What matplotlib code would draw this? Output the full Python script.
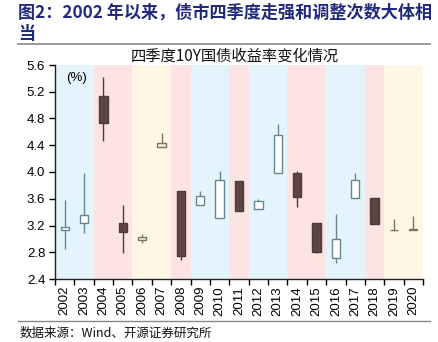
import matplotlib.pyplot as plt
from matplotlib.lines import Line2D

plt.rcParams['font.family'] = ['Noto Sans CJK SC', 'DejaVu Sans']

years = [str(y) for y in range(2002, 2021)]
# 四季度开盘、收盘、最高、最低 (%)
q4_open = [3.13, 3.23, 5.13, 3.24, 2.98, 4.38, 3.72, 3.50, 3.31, 3.86,
           3.45, 3.99, 3.99, 3.24, 2.72, 3.61, 3.61, 3.13, 3.14]
q4_close = [3.18, 3.36, 4.74, 3.11, 3.03, 4.43, 2.74, 3.64, 3.88, 3.41,
            3.56, 4.55, 3.62, 2.80, 3.00, 3.88, 3.22, 3.14, 3.15]
q4_high = [3.58, 3.99, 5.42, 3.51, 3.07, 4.59, 3.72, 3.72, 4.01, 3.86,
           3.60, 4.72, 4.01, 3.24, 3.37, 3.98, 3.61, 3.30, 3.34]
q4_low = [2.85, 3.09, 4.46, 2.79, 2.94, 4.38, 2.68, 3.50, 3.31, 3.41,
          3.45, 3.99, 3.48, 2.79, 2.64, 3.61, 3.22, 3.12, 3.14]
# 背景：up=调整, down=走强, flat=震荡
regime = ['up', 'up', 'down', 'down', 'flat', 'flat', 'down', 'up', 'up', 'down',
          'up', 'up', 'down', 'down', 'up', 'up', 'down', 'flat', 'flat']

band_color = {'up': '#e3f4fc', 'down': '#fde4e4', 'flat': '#fff6e6'}

fig = plt.figure(figsize=(4.39, 3.42), dpi=100)
ax = fig.add_axes([55 / 439, 63 / 342, 368 / 439, 214 / 342])

x = list(range(len(years)))
for i, r in enumerate(regime):
    ax.axvspan(i - 0.5, i + 0.5, color=band_color[r], lw=0, zorder=0)

w = 0.43
for i in x:
    o, c = q4_open[i], q4_close[i]
    if regime[i] == 'flat':
        edge, face = '#7d7460', '#f4eedc'
    elif c > o:
        edge, face = '#6a848d', '#ffffff'
    else:
        edge, face = '#4f3a3a', '#5e4545'
    ax.vlines(i, q4_low[i], q4_high[i], color=edge, lw=1.0, zorder=2)
    ax.bar(i, abs(c - o), bottom=min(o, c), width=w, color=face,
           edgecolor=edge, linewidth=1.0, zorder=3)

ax.set_xlim(-0.5, len(years) - 0.5)
ax.set_ylim(2.4, 5.6)
ax.set_yticks([2.4 + 0.4 * k for k in range(9)])
ax.set_yticklabels(['%.1f' % (2.4 + 0.4 * k) for k in range(9)],
                   family='Liberation Sans', fontsize=9.5)
ax.set_xticks(x)
ax.set_xticklabels(years, rotation=90, family='Liberation Sans', fontsize=9.5)
ax.tick_params(axis='x', length=0, pad=5)
ax.set_xticks([i - 0.5 for i in range(len(years) + 1)], minor=True)
ax.tick_params(axis='x', which='minor', length=4, width=1, direction='out')
ax.tick_params(axis='y', length=4, width=1, direction='out', pad=3)
for s in ['top', 'right']:
    ax.spines[s].set_visible(False)
for s in ['left', 'bottom']:
    ax.spines[s].set_linewidth(1.0)
    ax.spines[s].set_color('#222222')

ax.text(0.03, 0.965, '(%)', transform=ax.transAxes, ha='left', va='top',
        family='Liberation Sans', fontsize=9.5)

fig.text(235 / 439, 1 - 56 / 342, '四季度10Y国债收益率变化情况', ha='center', va='center',
         fontsize=11, color='#111111')

fig.text(18 / 439, 1 - 13 / 342, '图2：2002 年以来，债市四季度走强和调整次数大体相',
         ha='left', va='center', fontsize=12.3, fontweight='bold', color='#1f2a7c')
fig.text(18 / 439, 1 - 34 / 342, '当', ha='left', va='center', fontsize=12.3,
         fontweight='bold', color='#1f2a7c')
fig.add_artist(Line2D([18 / 439, 430 / 439], [1 - 43.5 / 342, 1 - 43.5 / 342],
                      color='#888888', lw=1.2, transform=fig.transFigure))
fig.add_artist(Line2D([18 / 439, 430 / 439], [1 - 321 / 342, 1 - 321 / 342],
                      color='#888888', lw=1.0, transform=fig.transFigure))
fig.text(20 / 439, 1 - 333 / 342, '数据来源：Wind、开源证券研究所', ha='left', va='center',
         fontsize=9, color='#111111')

fig.savefig('out.png', dpi=100)
